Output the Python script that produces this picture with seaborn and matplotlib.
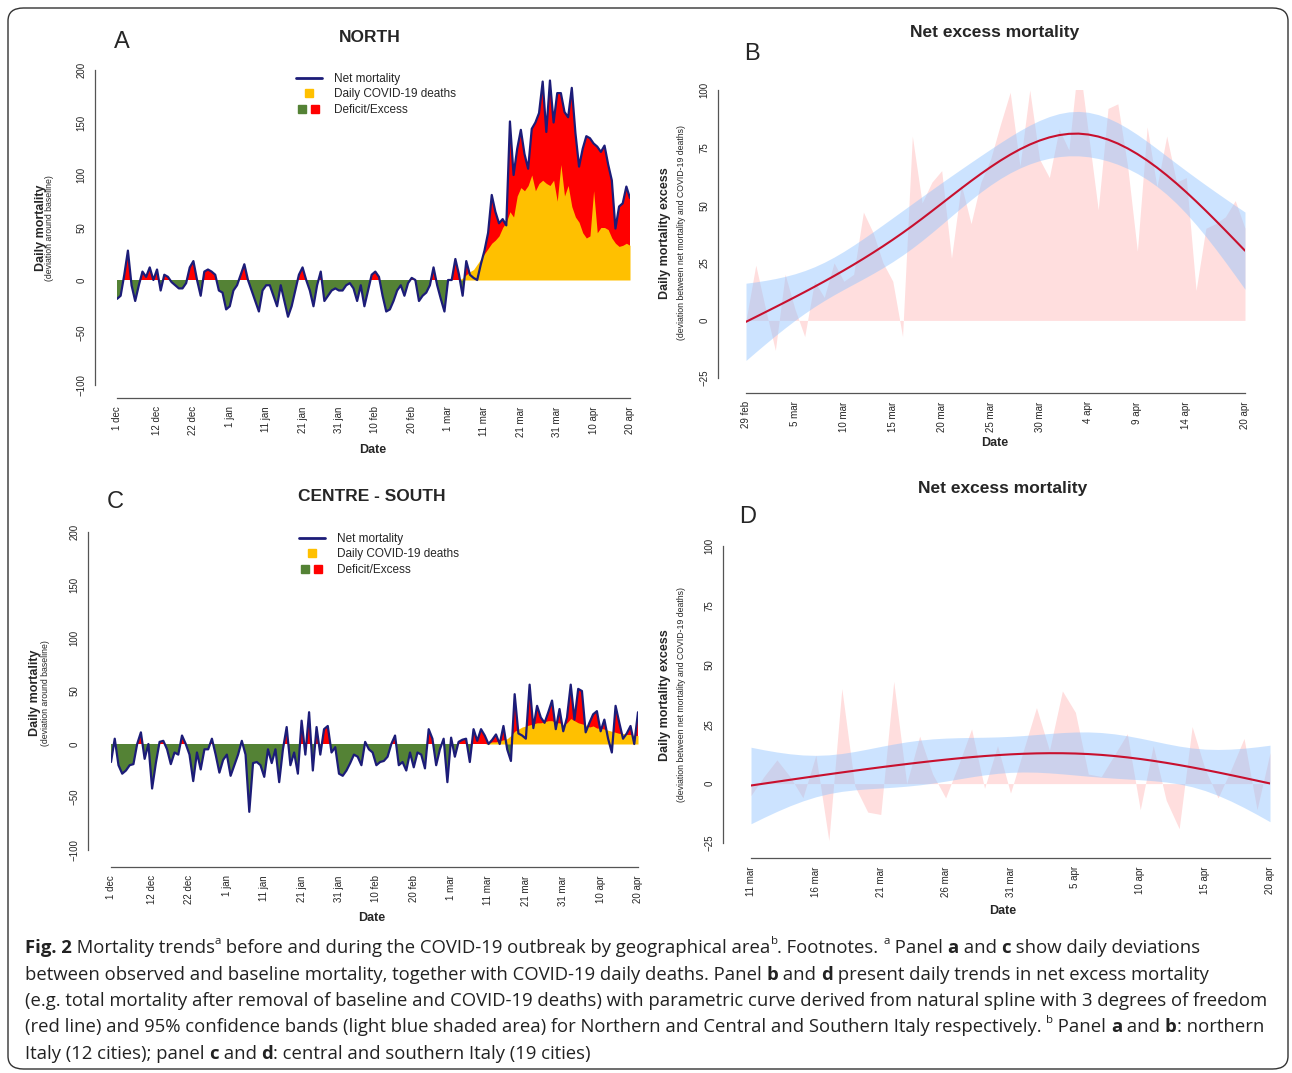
import matplotlib
matplotlib.use('Agg')
import matplotlib.pyplot as plt
import numpy as np
import seaborn as sns
from matplotlib.lines import Line2D
from matplotlib.legend_handler import HandlerTuple
from matplotlib.patches import FancyBboxPatch

sns.set_style("white")
plt.rcParams['font.family'] = ['Liberation Sans', 'DejaVu Sans']

# ---- data -------------------------------------------------------------
north_net = [
    -18, -15, 5, 28, -5, -20, -5, 8, 3, 12, 0, 10, -10, 5, 3, -2, -5, -8, -8, -3, 12, 18, 0, -15, 8, 10, 8, 5, -10, -12, -28,
    -25, -10, -5, 5, 15, 0, -10, -20, -30, -10, -5, -5, -15, -25, -5, -20, -35, -25, -10, 5, 12, 0, -10, -25, -5, 8, -20, -15, -10, -8, -10,
    -10, -5, -3, -8, -20, -5, -25, -10, 5, 8, 3, -15, -30, -28, -20, -10, -5, -15, -3, 2, 0, -20, -15, -12, -5, 12, -5, -18, -30,
    0, 0, 20, 5, -15, 18, 5, 2, 0, 15,
    28, 45, 81, 65, 54, 58, 52, 151, 100, 125, 143, 120, 106, 144, 150, 159, 189, 141, 190, 150, 178,
    178, 160, 155, 183, 140, 108, 125, 137, 135, 130, 127, 122, 128, 110, 95, 49, 70, 73, 89, 78,
]
north_covid = [0] * 95 + [
    2, 5, 8, 10, 15, 20, 25, 30, 35, 38, 42, 50, 55, 65, 60, 80, 88, 85, 90, 100, 85, 92, 95, 92, 90, 95, 75,
    110, 80, 90, 70, 60, 55, 45, 40, 42, 85, 45, 50, 50, 48, 40, 35, 32, 33, 35, 33,
]
south_net = [
    -17, 5, -20, -28, -25, -20, -19, 0, 11, -14, 0, -42, -18, 2, 3, -5, -19, -8, -10, 8, 0, -10, -35, -8, -24,
    -5, -5, 5, -10, -27, -15, -10, -30, -20, -10, 3, -10, -64, -18, -17, -20, -31, -5, -18, -5, -36, -5, 16, -20, -8,
    -28, 22, -10, 30, -25, 16, -10, 14, 17, -8, -3, -28, -30, -25, -18, -10, -12, -20, 2, -5, -8, -20, -17, -16, -12,
    0, 8, -20, -17, -25, -8, -22, -8, -10, -23, 14, 5, -20, -5, 5, -36, 6, -12, 2, 4, 5, -17, 14, 3, 14,
    8, 0, 4, 9, 0, 17, -5, -16, 47, 10, 8, 5, 56, 15, 36, 25, 20, 30, 41, 14, 33, 12, 25, 56, 23,
    52, 50, 11, 20, 28, 31, 12, 23, 5, -8, 36, 20, 5, 10, 17, 0, 30,
]
south_covid = [0] * 100 + [
    0, 1, 2, 2, 3, 4, 5, 8, 12, 14, 16, 17, 18, 19, 20, 20, 21, 22, 22, 20, 20, 18, 20, 24, 22,
    20, 19, 18, 16, 17, 15, 15, 14, 13, 12, 11, 10, 10, 9, 9, 8, 8,
]
north_excess = [0, 24, 5, -13, 20, 5, -7, 17, 10, 25, 17, 20, 47, 38, 25, 17, -7, 80, 51, 60, 65, 27, 59, 42, 60, 70,
                85, 99, 67, 100, 70, 62, 83, 74, 114, 81, 48, 92, 94, 67, 30, 84, 58, 80, 60, 62, 13, 40, 42, 45, 52, 40]
south_excess = [-5, 3, 10, 3, -6, 12, -24, 40, -1, -12, -13, 43, 0, 20, 4, -6, 8, 23, -2, 16, -4, 14, 32, 14, 39, 30,
                4, 3, 12, 21, -11, 16, -7, -19, 24, 6, -6, 6, 19, -11, 13]

long_ticks = [0, 11, 21, 31, 41, 51, 61, 71, 81, 91, 101, 111, 121, 131, 141]
long_labels = ['1 dec', '12 dec', '22 dec', '1 jan', '11 jan', '21 jan', '31 jan', '10 feb', '20 feb',
               '1 mar', '11 mar', '21 mar', '31 mar', '10 apr', '20 apr']
b_ticks = [0, 5, 10, 15, 20, 25, 30, 35, 40, 45, 51]
b_labels = ['29 feb', '5 mar', '10 mar', '15 mar', '20 mar', '25 mar', '30 mar', '4 apr', '9 apr', '14 apr', '20 apr']
d_ticks = [0, 5, 10, 15, 20, 25, 30, 35, 40]
d_labels = ['11 mar', '16 mar', '21 mar', '26 mar', '31 mar', '5 apr', '10 apr', '15 apr', '20 apr']

W, H = 1292, 1073
fig = plt.figure(figsize=(W / 100, H / 100), dpi=100)


def px_axes(x0, x1, ytop, ybot):
    return fig.add_axes([x0 / W, 1 - ybot / H, (x1 - x0) / W, (ybot - ytop) / H])


def r_style(ax, left_out, bottom_out):
    for s in ['top', 'right']:
        ax.spines[s].set_visible(False)
    ax.spines['left'].set_position(('outward', left_out * 0.72))
    ax.spines['bottom'].set_position(('outward', bottom_out * 0.72))
    for s in ['left', 'bottom']:
        ax.spines[s].set_color('#555555')
        ax.spines[s].set_linewidth(0.9)
    ax.tick_params(axis='both', length=4, width=0.9, color='#555555', labelsize=7, pad=2)
    ax.tick_params(axis='y', labelrotation=90)
    ax.tick_params(axis='x', labelrotation=90)
    ax.grid(False)
    for t in ax.get_yticklabels():
        t.set_va('center')


def natural_spline_fit(y):
    y = np.asarray(y, float)
    x = np.arange(len(y), dtype=float)
    knots = np.array([x[0], np.quantile(x, 1 / 3), np.quantile(x, 2 / 3), x[-1]])
    K = len(knots)

    def d(k):
        return (np.clip(x - knots[k], 0, None) ** 3 - np.clip(x - knots[-1], 0, None) ** 3) / (knots[-1] - knots[k])

    cols = [np.ones_like(x), x] + [d(k) - d(K - 2) for k in range(K - 2)]
    X = np.column_stack(cols)
    beta, *_ = np.linalg.lstsq(X, y, rcond=None)
    fit = X @ beta
    sigma = np.sqrt(np.sum((y - fit) ** 2) / (len(y) - X.shape[1]))
    se = sigma * np.sqrt(np.einsum('ij,jk,ik->i', X, np.linalg.inv(X.T @ X), X))
    return x, fit, fit - 1.96 * se, fit + 1.96 * se


def mortality_panel(ax, net, covid, title, letter, title_xy, letter_xy, leg_xy):
    net = np.array(net, float)
    covid = np.array(covid, float)
    x = np.arange(len(net))
    ax.fill_between(x, 0, net, where=net > 0, interpolate=True, color='#ff0000', lw=0)
    ax.fill_between(x, 0, net, where=net < 0, interpolate=True, color='#548235', lw=0)
    ax.fill_between(x, 0, covid, color='#ffc000', lw=0)
    sns.lineplot(x=x, y=net, ax=ax, color='#1c1c78', lw=1.6)
    ax.set_xlim(0, len(net) - 1)
    ax.set_ylim(-100, 200)
    ax.set_yticks([-100, -50, 0, 50, 100, 150, 200])
    ax.set_xticks(long_ticks)
    ax.set_xticklabels(long_labels)
    ax.set_xlabel('')
    fig.text(title_xy[0] / W, 1 - title_xy[1] / H, title, ha='center', va='center', fontsize=12.5, fontweight='bold')
    fig.text(letter_xy[0] / W, 1 - letter_xy[1] / H, letter, ha='center', va='center', fontsize=17)
    handles = [Line2D([], [], color='#1c1c78', lw=2),
               Line2D([], [], marker='s', color='#ffc000', ls='', ms=6),
               (Line2D([], [], marker='s', color='#548235', ls='', ms=6),
                Line2D([], [], marker='s', color='#ff0000', ls='', ms=6))]
    ax.legend(handles, ['Net mortality', 'Daily COVID-19 deaths', 'Deficit/Excess'],
              handler_map={tuple: HandlerTuple(ndivide=None, pad=0)},
              loc='upper left', bbox_to_anchor=(leg_xy[0] / W, 1 - leg_xy[1] / H),
              bbox_transform=fig.transFigure, frameon=False, fontsize=8.5,
              handlelength=2.2, labelspacing=0.3, borderpad=0, handletextpad=1.0)


def excess_panel(ax, data, ticks, labels, ylim, letter, letter_xy, title_xy):
    y = np.array(data, float)
    x, fit, lo, hi = natural_spline_fit(y)
    ax.fill_between(x, 0, y, color='#ffc8c8', alpha=0.6, lw=0)
    ax.fill_between(x, lo, hi, color='#8fc3ff', alpha=0.45, lw=0)
    sns.lineplot(x=x, y=fit, ax=ax, color='#c8102e', lw=1.5)
    ax.set_xlim(0, len(y) - 1)
    ax.set_ylim(*ylim)
    ax.set_yticks([-25, 0, 25, 50, 75, 100])
    ax.set_xticks(ticks)
    ax.set_xticklabels(labels)
    ax.set_xlabel('')
    fig.text(title_xy[0] / W, 1 - title_xy[1] / H, 'Net excess mortality', ha='center', va='center',
             fontsize=12.5, fontweight='bold')
    fig.text(letter_xy[0] / W, 1 - letter_xy[1] / H, letter, ha='center', va='center', fontsize=17)


# ---- panels ----------------------------------------------------------
axA = px_axes(117, 630, 70, 385)
mortality_panel(axA, north_net, north_covid, 'NORTH', 'A', (370, 37), (122, 42), (290, 67))
r_style(axA, 22, 13)

axC = px_axes(111, 638, 532, 850)
mortality_panel(axC, south_net, south_covid, 'CENTRE - SOUTH', 'C', (372, 496), (115, 502), (293, 527))
r_style(axC, 23, 17)

axB = px_axes(746, 1245, 90, 378)
excess_panel(axB, north_excess, b_ticks, b_labels, (-25, 100), 'B', (752, 54), (995, 32))
r_style(axB, 28, 15)

axD = px_axes(751, 1270, 546, 843)
excess_panel(axD, south_excess, d_ticks, d_labels, (-25, 100), 'D', (748, 517), (1003, 488))
r_style(axD, 28, 15)

# axis titles
for xc, yc in [(373, 450), (372, 918), (995, 443), (1003, 911)]:
    fig.text(xc / W, 1 - yc / H, 'Date', ha='center', va='center', fontsize=9, fontweight='bold')
for xb, xs, yc in [(41, 50, 228), (35, 45, 693)]:
    fig.text(xb / W, 1 - yc / H, 'Daily mortality', rotation=90, ha='center', va='center', fontsize=9, fontweight='bold')
    fig.text(xs / W, 1 - yc / H, '(deviation around baseline)', rotation=90, ha='center', va='center', fontsize=6.3)
for xb, xs, yc in [(665, 682, 233), (665, 681, 695)]:
    fig.text(xb / W, 1 - yc / H, 'Daily mortality excess', rotation=90, ha='center', va='center', fontsize=9, fontweight='bold')
    fig.text(xs / W, 1 - yc / H, '(deviation between net mortality and COVID-19 deaths)', rotation=90,
             ha='center', va='center', fontsize=6.3)

# ---- caption ---------------------------------------------------------
N, B, S = 'n', 'b', 's'
caption = [
    [('Fig. 2', B), (' Mortality trends', N), ('a', S), (' before and during the COVID-19 outbreak by geographical area', N),
     ('b', S), ('. Footnotes. ', N), ('a', S), (' Panel ', N), ('a', B), (' and ', N), ('c', B), (' show daily deviations', N)],
    [('between observed and baseline mortality, together with COVID-19 daily deaths. Panel ', N), ('b', B), (' and ', N),
     ('d', B), (' present daily trends in net excess mortality', N)],
    [('(e.g. total mortality after removal of baseline and COVID-19 deaths) with parametric curve derived from natural spline with 3 degrees of freedom', N)],
    [('(red line) and 95% confidence bands (light blue shaded area) for Northern and Central and Southern Italy respectively. ', N),
     ('b', S), (' Panel ', N), ('a', B), (' and ', N), ('b', B), (': northern', N)],
    [('Italy (12 cities); panel ', N), ('c', B), (' and ', N), ('d', B), (': central and southern Italy (19 cities)', N)],
]
fig.canvas.draw()
renderer = fig.canvas.get_renderer()
cap_fs = 13.3
for i, line in enumerate(caption):
    xpx = 25
    ypx = 948 + i * 26.5
    for txt, kind in line:
        fs = cap_fs * 0.62 if kind == S else cap_fs
        yy = ypx - 7 if kind == S else ypx
        t = fig.text(xpx / W, 1 - yy / H, txt, fontsize=fs, va='center', ha='left',
                     fontweight='bold' if kind == B else 'normal', color='#222222', family=['Open Sans', 'DejaVu Sans'])
        xpx += t.get_window_extent(renderer).width

fig.patches.append(FancyBboxPatch((8 / W, 4 / H), 1280 / W, 1061 / H, boxstyle='round,pad=0,rounding_size=0.012',
                                  transform=fig.transFigure, fill=False, ec='#333333', lw=1.0))

fig.savefig('out.png', dpi=100)
